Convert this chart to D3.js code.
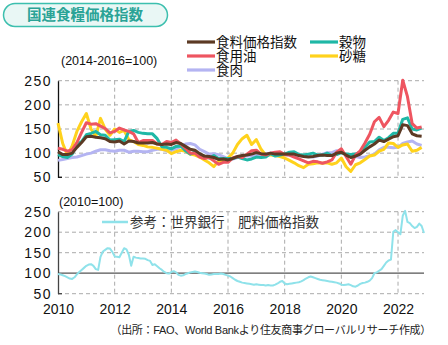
<!DOCTYPE html>
<html>
<head>
<meta charset="utf-8">
<script src="https://cdn.jsdelivr.net/npm/d3@7"></script>
<style>
  body { margin: 0; background: #fff; }
  svg text { font-family: "Liberation Sans", "Noto Sans CJK JP", sans-serif; fill: #111; }
</style>
</head>
<body>
<div id="chart"></div>
<script>
// FAO indices (2014-2016=100), every two months from Jan 2010
var foodIdx = [
  103, 97, 97, 100, 112, 122,
  134, 135, 133, 132, 130, 124,
  123, 125, 119, 125, 124, 121,
  121, 121, 122, 119, 118, 119,
  118, 122, 120, 114, 108, 106,
  99, 94, 93, 91, 87, 88,
  86, 89, 93, 95, 96, 98,
  101, 99, 98, 100, 98, 98,
  98, 98, 98, 95, 93, 92,
  93, 95, 96, 95, 95, 100,
  102, 96, 91, 94, 98, 106,
  113, 119, 127, 124, 129, 134,
  136, 159, 157, 140, 136, 135
];
var cereals = [
  97, 93, 91, 98, 118, 124,
  138, 141, 145, 138, 137, 127,
  128, 129, 124, 145, 147, 143,
  141, 140, 140, 130, 113, 112,
  109, 114, 115, 105, 98, 102,
  98, 94, 90, 95, 89, 89,
  89, 89, 92, 89, 86, 88,
  92, 91, 92, 99, 94, 96,
  98, 102, 103, 97, 96, 98,
  100, 96, 96, 100, 95, 97,
  101, 98, 97, 98, 102, 112,
  123, 124, 133, 126, 132, 141,
  141, 170, 173, 150, 148, 152
];
var vegOils = [
  110, 108, 104, 107, 122, 143,
  163, 160, 161, 156, 151, 142,
  145, 152, 148, 145, 140, 122,
  126, 126, 126, 119, 118, 124,
  122, 127, 119, 110, 100, 100,
  92, 89, 91, 84, 77, 81,
  81, 90, 93, 91, 98, 105,
  106, 98, 96, 100, 102, 103,
  97, 96, 92, 88, 84, 80,
  83, 82, 79, 82, 86, 102,
  109, 93, 77, 96, 105, 121,
  139, 165, 174, 155, 168, 185,
  182, 251, 217, 161, 152, 154
];
var sugar = [
  162, 120, 96, 115, 145, 165,
  182, 150, 134, 172, 150, 137,
  150, 143, 147, 128, 124, 118,
  116, 113, 112, 110, 108, 106,
  99, 103, 106, 104, 98, 96,
  92, 86, 80, 72, 84, 83,
  90, 100, 118, 130, 137, 118,
  128, 108, 96, 96, 95, 93,
  90, 85, 80, 74, 70, 77,
  78, 80, 79, 80, 77, 80,
  90, 72, 62, 76, 80, 87,
  94, 96, 104, 108, 121, 120,
  112, 117, 119, 104, 106, 112
];
var meat = [
  85, 87, 89, 91, 92, 95,
  98, 100, 104, 107, 107, 105,
  104, 106, 106, 102, 104, 104,
  103, 103, 106, 108, 108, 105,
  106, 109, 114, 119, 120, 117,
  108, 103, 98, 99, 97, 93,
  88, 88, 91, 94, 94, 94,
  95, 96, 99, 100, 100, 98,
  96, 96, 96, 95, 94, 93,
  92, 94, 98, 101, 101, 105,
  103, 97, 94, 93, 91, 92,
  95, 98, 107, 112, 112, 111,
  112, 120, 123, 125, 119, 116
];

// World Bank fertilizer index (2010=100), monthly from Jan 2010
var fertilizer = [
  98, 97, 95, 93, 90, 87, 86, 90, 97, 103, 108, 113,
  118, 121, 122, 118, 110, 108, 140, 153, 157, 161, 160, 152,
  141, 140, 139, 150, 161, 158, 145, 118, 140, 138, 137, 136,
  136, 135, 132, 130, 120, 122, 117, 112, 108, 103, 100, 99,
  103, 105, 102, 96, 94, 95, 98, 100, 102, 103, 104, 103,
  101, 100, 99, 98, 96, 97, 98, 98, 98, 99, 98, 96,
  94, 92, 88, 84, 81, 79, 77, 76, 75, 74, 73, 72,
  73, 72, 71, 71, 70, 71, 70, 70, 72, 75, 79, 81,
  75, 73, 74, 75, 76, 77, 78, 80, 83, 87, 90, 92,
  90, 88, 86, 84, 83, 82, 81, 80, 79, 78, 77, 75,
  72, 71, 72, 73, 71, 68, 67, 70, 74, 76, 77, 79,
  82, 88, 100, 102, 106, 110, 118, 126, 131, 133, 201, 205,
  200, 195, 240, 252, 225, 222, 215, 210, 213, 221, 215, 198
];

var yTicks = [50, 100, 150, 200, 250];
var xTicks = [2010, 2012, 2014, 2016, 2018, 2020, 2022];

var topSeries = [
  {name: "食料価格指数", values: foodIdx, color: "#5c3a24"},
  {name: "食用油", values: vegOils, color: "#ee5560"},
  {name: "食肉", values: meat, color: "#b4b4f2"},
  {name: "穀物", values: cereals, color: "#1fb8a6"},
  {name: "砂糖", values: sugar, color: "#ffd21c"}
];
// drawing order (back to front)
var drawOrder = ["食肉", "砂糖", "穀物", "食用油", "食料価格指数"];

var svg = d3.select("#chart").append("svg")
    .attr("width", 448)
    .attr("height", 345);

// Title pill
svg.append("rect")
    .attr("x", 3.5).attr("y", 3.5)
    .attr("width", 164).attr("height", 23)
    .attr("rx", 11.5)
    .style("fill", "#e9f7f5")
    .style("stroke", "#3cbfae")
    .style("stroke-width", 1.5);
svg.append("text")
    .attr("x", 85).attr("y", 20)
    .attr("text-anchor", "middle")
    .style("font-size", "14.5px")
    .style("font-weight", "bold")
    .style("fill", "#2aa396")
    .text("国連食糧価格指数");

// Scales
var xScale = d3.scaleLinear()
    .domain([2010, 2022 + 11/12])
    .range([58, 424]);
var yTop = d3.scaleLinear()
    .domain([50, 250])
    .range([177.3, 80.7]);
var yBot = d3.scaleLinear()
    .domain([50, 250])
    .range([293.7, 211.7]);

function drawFrame(y, solid100) {
    var g = svg.append("g");
    // horizontal gridlines
    g.selectAll(".hgrid")
        .data(yTicks)
        .enter()
        .append("line")
        .attr("x1", xScale.range()[0]).attr("x2", xScale.range()[1])
        .attr("y1", d => y(d)).attr("y2", d => y(d))
        .style("stroke", d => (solid100 && d == 100) ? "#555" : "#aaa")
        .style("stroke-width", d => (solid100 && d == 100) ? 1.2 : 1)
        .style("stroke-dasharray", d => (solid100 && d == 100) ? null : "4,3");
    // vertical gridlines
    g.selectAll(".vgrid")
        .data(xTicks.slice(1))
        .enter()
        .append("line")
        .attr("x1", d => xScale(d)).attr("x2", d => xScale(d))
        .attr("y1", y(250)).attr("y2", y(50))
        .style("stroke", "#aaa")
        .style("stroke-dasharray", "4,3");
    // left axis
    var yAxis = d3.axisLeft(y)
        .tickValues(yTicks)
        .tickSize(0)
        .tickPadding(6);
    var ag = g.append("g")
        .attr("transform", "translate(" + xScale.range()[0] + ",0)")
        .call(yAxis);
    ag.select(".domain").style("stroke", solid100 ? "#444" : "#111").style("stroke-width", 1.3);
    ag.selectAll("text")
        .style("font-size", "14px")
        .style("letter-spacing", "1.5px")
        .style("fill", "#111");
    // small end tick at the base
    g.append("line")
        .attr("x1", xScale.range()[0]).attr("x2", xScale.range()[0] + 4)
        .attr("y1", y(50)).attr("y2", y(50))
        .style("stroke", solid100 ? "#444" : "#111")
        .style("stroke-width", 1.3);
    return g;
}

drawFrame(yTop, false);
drawFrame(yBot, true);

// Top panel lines
var topX = foodIdx.map((d, i) => 2010 + i * 2 / 12);
var topLine = d3.line()
    .x((d, i) => xScale(topX[i]))
    .y(d => yTop(d));

drawOrder.forEach(function(n) {
    var s = topSeries.find(t => t.name == n);
    svg.append("path")
        .attr("d", topLine(s.values))
        .style("fill", "none")
        .style("stroke", s.color)
        .style("stroke-width", 3)
        .style("stroke-linejoin", "round");
});

// Bottom panel line
var botLine = d3.line()
    .x((d, i) => xScale(2010 + i / 12))
    .y(d => yBot(d));
svg.append("path")
    .attr("d", botLine(fertilizer))
    .style("fill", "none")
    .style("stroke", "#8fe2ea")
    .style("stroke-width", 2)
    .style("stroke-linejoin", "round");

// X axis labels
var xAxis = d3.axisBottom(xScale)
    .tickValues(xTicks)
    .tickFormat(d3.format("d"))
    .tickSize(0)
    .tickPadding(10);
var xg = svg.append("g")
    .attr("transform", "translate(0," + yBot(50) + ")")
    .call(xAxis);
xg.select(".domain").remove();
xg.selectAll("text")
    .style("font-size", "14px")
    .style("fill", "#111");

// Unit labels
svg.append("text")
    .attr("x", 61).attr("y", 65)
    .style("font-size", "12.5px")
    .text("(2014-2016=100)");
svg.append("text")
    .attr("x", 59).attr("y", 206)
    .style("font-size", "12.5px")
    .text("(2010=100)");

// Top legend
var legendPos = [
    {name: "食料価格指数", x: 187, y: 42},
    {name: "食用油", x: 187, y: 56},
    {name: "食肉", x: 187, y: 70},
    {name: "穀物", x: 310, y: 42},
    {name: "砂糖", x: 310, y: 56}
];
legendPos.forEach(function(p) {
    var s = topSeries.find(t => t.name == p.name);
    svg.append("line")
        .attr("x1", p.x).attr("x2", p.x + 28)
        .attr("y1", p.y).attr("y2", p.y)
        .style("stroke", s.color)
        .style("stroke-width", 3.2);
    svg.append("text")
        .attr("x", p.x + 29).attr("y", p.y + 5)
        .style("font-size", "13.5px")
        .text(p.name);
});

// Bottom legend
svg.append("line")
    .attr("x1", 102).attr("x2", 128)
    .attr("y1", 222).attr("y2", 222)
    .style("stroke", "#8fe2ea")
    .style("stroke-width", 2.5);
svg.append("text")
    .attr("x", 130).attr("y", 227)
    .style("font-size", "13.5px")
    .style("fill", "#333")
    .text("参考：世界銀行　肥料価格指数");

// Source note
svg.append("text")
    .attr("x", 431).attr("y", 334)
    .attr("text-anchor", "end")
    .style("font-size", "11px")
    .style("letter-spacing", "-0.3px")
    .style("fill", "#222")
    .text("（出所：FAO、World Bankより住友商事グローバルリサーチ作成）");
</script>
</body>
</html>
